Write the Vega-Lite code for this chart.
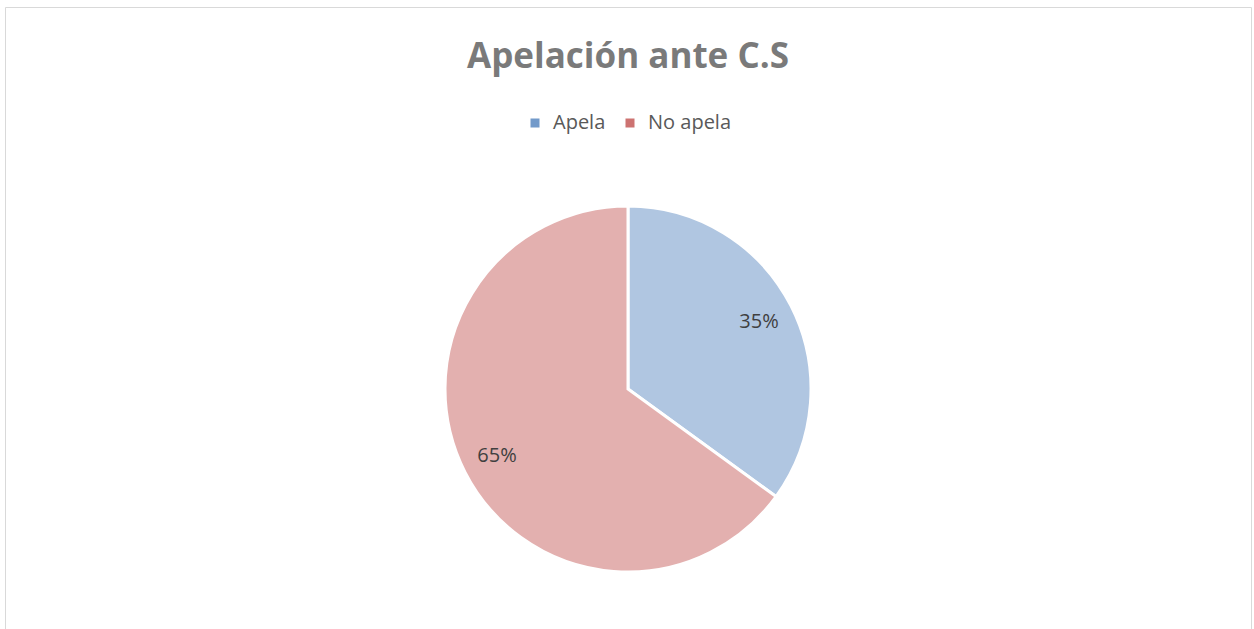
{
  "$schema": "https://vega.github.io/schema/vega-lite/v6.json",
  "width": 1246,
  "height": 764,
  "autosize": {"type": "none"},
  "padding": {"left": 5, "top": 7, "right": 3, "bottom": 0},
  "background": "white",
  "view": {"stroke": "#d9d9d9", "strokeWidth": 1, "fill": "white"},
  "title": {
    "text": "Apelación ante C.S",
    "frame": "group",
    "anchor": "middle",
    "orient": "top",
    "offset": -68,
    "fontSize": 35,
    "font": "Open Sans",
    "fontWeight": "bold",
    "color": "#7a7a7a"
  },
  "data": {
    "values": [
      {"categoria": "Apela", "valor": 35, "etiqueta": "35%"},
      {"categoria": "No apela", "valor": 65, "etiqueta": "65%"}
    ]
  },
  "encoding": {
    "theta": {"field": "valor", "type": "quantitative", "stack": true}
  },
  "layer": [
    {
      "mark": {"type": "arc", "outerRadius": 183, "stroke": "white", "strokeWidth": 3, "fillOpacity": 0.45},
      "encoding": {
        "color": {
          "field": "categoria",
          "type": "nominal",
          "scale": {"domain": ["Apela", "No apela"], "range": ["#4f81bd", "#c0504d"]},
          "legend": {
            "title": null,
            "orient": "none",
            "legendX": 520,
            "legendY": 106,
            "direction": "horizontal",
            "symbolType": "square",
            "symbolSize": 81,
            "symbolOpacity": 0.8,
            "symbolStrokeWidth": 0,
            "labelFontSize": 20,
            "labelFont": "Open Sans",
            "labelColor": "#595959",
            "labelOffset": 8,
            "columnPadding": 14
          }
        }
      }
    },
    {
      "mark": {"type": "text", "radius": 147, "fontSize": 20, "font": "Open Sans", "color": "#404040"},
      "encoding": {
        "text": {"field": "etiqueta", "type": "nominal"}
      }
    }
  ]
}
